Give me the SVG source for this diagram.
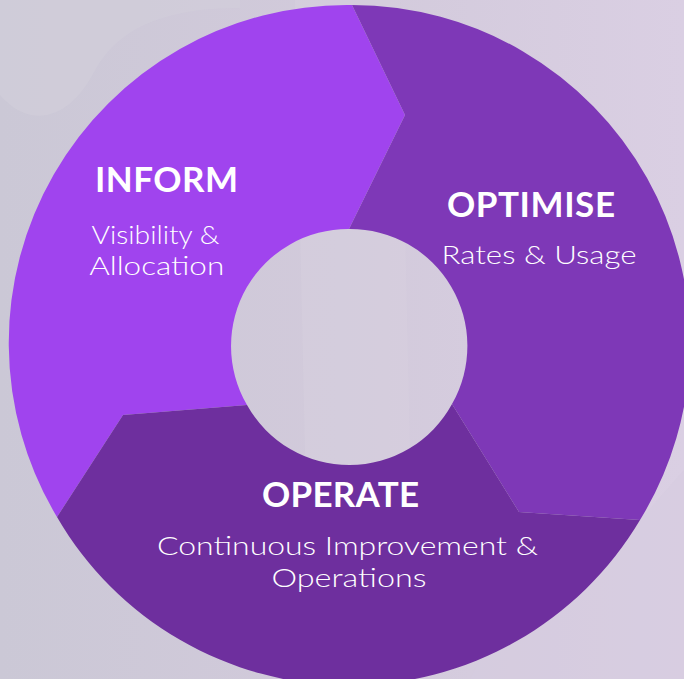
<svg xmlns="http://www.w3.org/2000/svg" width="684" height="679" viewBox="0 0 684 679">
  <defs>
    <linearGradient id="bg" x1="0" y1="0" x2="1" y2="0">
      <stop offset="0" stop-color="#CBC8D6"/>
      <stop offset="0.5" stop-color="#D2CADB"/>
      <stop offset="1" stop-color="#DACFE3"/>
    </linearGradient>
  </defs>
  <style>
    .head { font-family: Lato, "Open Sans", "Liberation Sans", sans-serif; font-weight: 700; font-size: 35px; fill: #FFFFFF; text-anchor: middle; }
    .sub { font-family: Lato, "Open Sans", "Liberation Sans", sans-serif; font-weight: 300; font-size: 26px; fill: #FFFFFF; text-anchor: middle; }
    .seg { stroke: none; }
  </style>
  <rect x="0" y="0" width="684" height="679" fill="url(#bg)"/>
  <path d="M0,95 C30,130 70,120 95,70 C120,25 170,8 240,8 L240,0 L0,0 Z" fill="#D2CFDB" opacity="0.6"/>
  <path d="M295,0 L400,0 L415,679 L310,679 Z" fill="#DAD3E2" opacity="0.3"/>
  <path d="M640,520 A338,338 0 0 1 480,659 L470,679 L684,679 L684,470 Z" fill="#D6CCE0" opacity="0.5"/>
  <g id="connectors"></g>
  <g id="inform">
    <path class="seg" fill="#A044EE" d="M57,517 A338,338 0 0 1 352,5 L405,115 L349,229 A117,117 0 0 0 247,405 L123,415 Z"/>
    <text class="head" x="166.5" y="191.5" textLength="143">INFORM</text>
    <text class="sub" x="155.5" y="243.5" textLength="128" lengthAdjust="spacingAndGlyphs">Visibility &amp;</text>
    <text class="sub" x="156.7" y="275" textLength="135" lengthAdjust="spacingAndGlyphs">Allocation</text>
  </g>
  <g id="optimise">
    <path class="seg" fill="#7E38B7" d="M352,5 A338,338 0 0 1 640,520 L519,512 L452,404 A117,117 0 0 0 349,229 L405,115 Z"/>
    <text class="head" x="531" y="216.5" textLength="168">OPTIMISE</text>
    <text class="sub" x="539" y="264" textLength="195" lengthAdjust="spacingAndGlyphs">Rates &amp; Usage</text>
  </g>
  <g id="operate">
    <path class="seg" fill="#6E2F9E" d="M640,520 A338,338 0 0 1 57,517 L123,415 L247,405 A117,117 0 0 0 452,404 L519,512 Z"/>
    <text class="head" x="340.5" y="506.5" textLength="157">OPERATE</text>
    <text class="sub" x="347.5" y="554.5" textLength="381" lengthAdjust="spacingAndGlyphs">Continuous Improvement &amp;</text>
    <text class="sub" x="349" y="587" textLength="155" lengthAdjust="spacingAndGlyphs">Operations</text>
  </g>
</svg>
